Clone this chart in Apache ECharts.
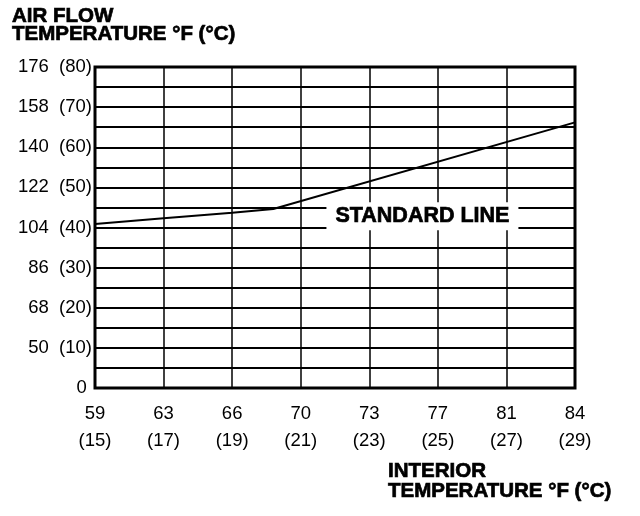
<!DOCTYPE html>
<html><head><meta charset="utf-8">
<script src="https://cdn.jsdelivr.net/npm/echarts@6/dist/echarts.min.js"></script>
<style>html,body{margin:0;padding:0;background:#fff}#c{width:640px;height:516px}</style>
</head><body><div id="c"></div>
<script>
// Interior temperature categories (°C) and matching °F tick labels
const xCelsius = [15, 17, 19, 21, 23, 25, 27, 29];
const xFahrenheit = ['59', '63', '66', '70', '73', '77', '81', '84'];
// Air flow temperature ticks (°C) and °F labels
const yCelsius = [0, 10, 20, 30, 40, 50, 60, 70, 80];
const yFahrenheit = ['0', '50', '68', '86', '104', '122', '140', '158', '176'];
// Standard line points: [interior °C, air flow °C]
const lineX = [15, 17, 19, 20.2, 29];
const lineY = [40.9, 42.3, 43.7, 44.6, 66.2];
const noteText = 'STANDARD LINE';
const notePos = [24.55, 42.8];

const font = 'Liberation Sans, Arial, sans-serif';
const heavy = {fontFamily: font, fontWeight: 'bold', color: '#000', textBorderColor: '#000', textBorderWidth: 0.7};
const chart = echarts.init(document.getElementById('c'), null, {renderer: 'canvas'});
chart.setOption({
  backgroundColor: '#fff',
  animation: false,
  title: [
    {text: 'AIR FLOW\nTEMPERATURE °F (°C)', left: 7, top: 2,
     textStyle: Object.assign({fontSize: 20.5, lineHeight: 18.5}, heavy)},
    {text: 'INTERIOR\nTEMPERATURE °F (°C)', left: 383, top: 457,
     textStyle: Object.assign({fontSize: 20.5, lineHeight: 19.5}, heavy)}
  ],
  grid: {left: 95, right: 65, top: 67, bottom: 128, show: true, borderColor: '#000', borderWidth: 3, backgroundColor: 'transparent'},
  xAxis: {
    type: 'value', min: 15, max: 29, interval: 2,
    axisLine: {show: false}, axisTick: {show: false},
    splitLine: {show: true, lineStyle: {color: '#000', width: 1.5}},
    axisLabel: {
      fontFamily: font, fontSize: 18.5, color: '#000', margin: 12, lineHeight: 27,
      formatter: v => { const i = xCelsius.indexOf(Math.round(v)); return i < 0 ? '' : xFahrenheit[i] + '\n(' + xCelsius[i] + ')'; }
    }
  },
  yAxis: {
    type: 'value', min: 0, max: 80, interval: 5,
    axisLine: {show: false}, axisTick: {show: false},
    splitLine: {show: true, lineStyle: {color: '#000', width: 2}},
    axisLabel: {
      fontFamily: font, fontSize: 18.5, color: '#000', margin: 3,
      formatter: v => { const i = yCelsius.indexOf(Math.round(v)); if (i < 0) return ''; return i === 0 ? yFahrenheit[0] + ' ' : yFahrenheit[i] + '  (' + yCelsius[i] + ')'; }
    }
  },
  series: [
    {type: 'line', data: lineX.map((x, i) => [x, lineY[i]]), symbol: 'none',
     lineStyle: {color: '#000', width: 2}, z: 5},
    {type: 'scatter', data: [notePos], symbolSize: 0, z: 6, silent: true,
     itemStyle: {opacity: 1, color: '#000'},
     label: Object.assign({show: true, position: 'inside', formatter: noteText,
       fontSize: 21.5, backgroundColor: '#fff', padding: [3, 9], opacity: 1}, heavy)}
  ]
});
</script></body></html>
